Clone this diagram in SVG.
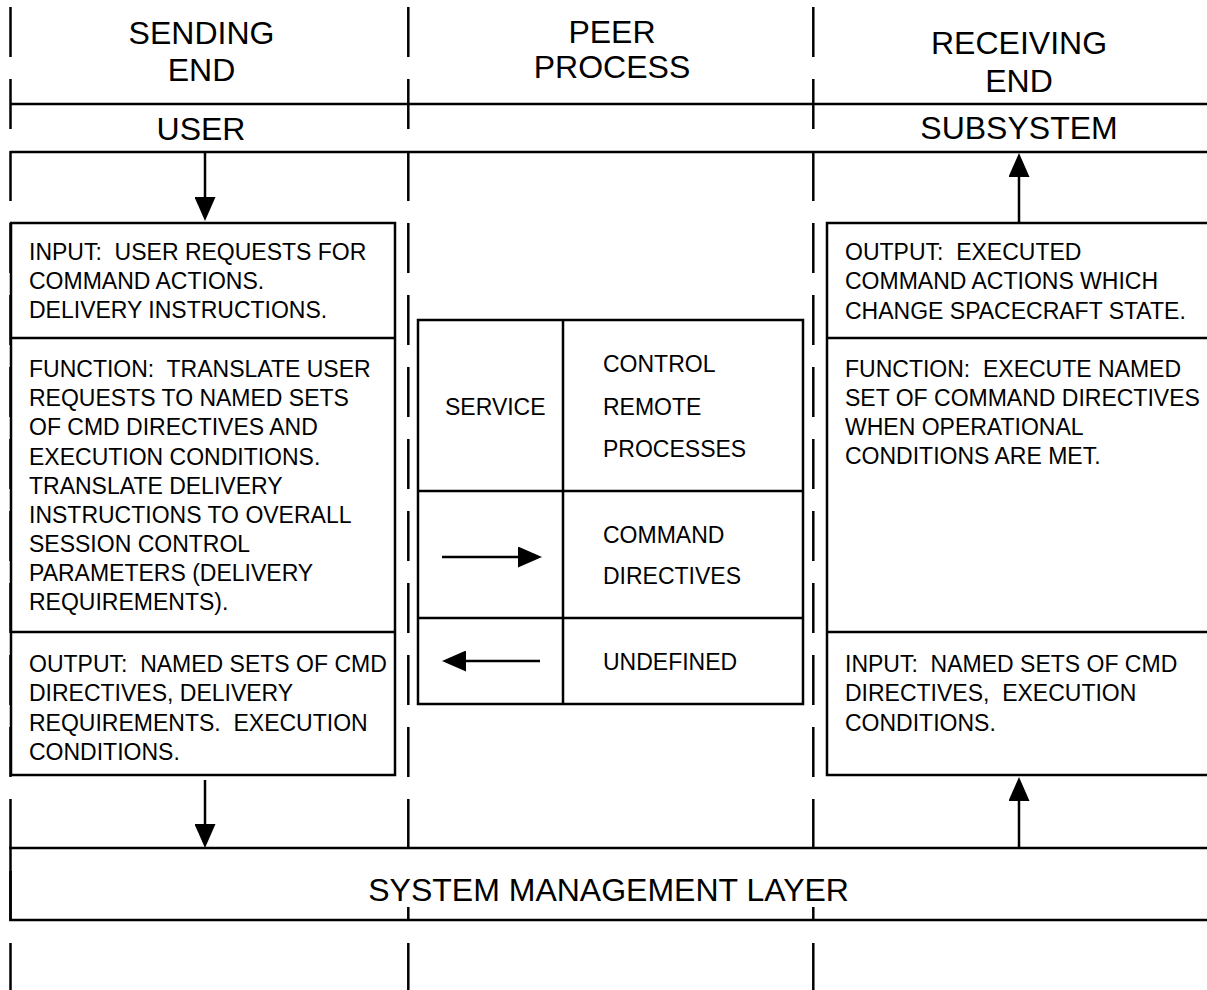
<svg xmlns="http://www.w3.org/2000/svg" width="1207" height="990" viewBox="0 0 1207 990">
<style>
  .bg { fill: #ffffff; }
  .dash { stroke: #000; stroke-width: 2.5; fill: none; stroke-dasharray: 50 22; }
  .box { stroke: #000; stroke-width: 2.5; fill: none; }
  .ln { stroke: #000; stroke-width: 2.5; fill: none; }
  .conn { stroke: #000; stroke-width: 2.5; fill: none; marker-end: url(#ah); }
  .hdr { font-family: "Liberation Sans", Arial, sans-serif; font-size: 32px; fill: #000; text-anchor: middle; }
  .txt { font-family: "Liberation Sans", Arial, sans-serif; font-size: 23px; fill: #000; white-space: pre; }
</style>
<defs>
  <marker id="ah" markerUnits="userSpaceOnUse" markerWidth="24" markerHeight="21" refX="0" refY="10.5" orient="auto" viewBox="0 0 24 21">
    <path d="M0,0 L24,10.5 L0,21 z" fill="#000"/>
  </marker>
</defs>
<rect class="bg" x="0" y="0" width="1207" height="990"/>

<g id="lanes">
  <line class="dash" x1="10.5" y1="7" x2="10.5" y2="995"/>
  <line class="dash" x1="408.3" y1="7" x2="408.3" y2="995"/>
  <line class="dash" x1="813.3" y1="7" x2="813.3" y2="995"/>
  <line class="ln" x1="10" y1="104" x2="1207" y2="104"/>
  <line class="ln" x1="10" y1="152" x2="1207" y2="152"/>
</g>

<g id="headers">
  <text class="hdr" x="201.5" y="44">SENDING</text>
  <text class="hdr" x="201.5" y="81">END</text>
  <text class="hdr" x="612" y="43">PEER</text>
  <text class="hdr" x="612" y="78">PROCESS</text>
  <text class="hdr" x="1019" y="54">RECEIVING</text>
  <text class="hdr" x="1019" y="92">END</text>
</g>

<g id="user">
  <text class="hdr" x="201" y="140">USER</text>
</g>
<g id="subsystem">
  <text class="hdr" x="1019" y="139">SUBSYSTEM</text>
</g>

<g id="sending-box">
  <rect class="box" x="11" y="223" width="384" height="552" fill="#fff"/>
  <line class="ln" x1="11" y1="338" x2="395" y2="338"/>
  <line class="ln" x1="11" y1="632" x2="395" y2="632"/>
  <text class="txt" x="29" y="260" xml:space="preserve">INPUT:  USER REQUESTS FOR</text>
  <text class="txt" x="29" y="289">COMMAND ACTIONS.</text>
  <text class="txt" x="29" y="318">DELIVERY INSTRUCTIONS.</text>
  <text class="txt" x="29" y="377" xml:space="preserve">FUNCTION:  TRANSLATE USER</text>
  <text class="txt" x="29" y="406">REQUESTS TO NAMED SETS</text>
  <text class="txt" x="29" y="435">OF CMD DIRECTIVES AND</text>
  <text class="txt" x="29" y="464.5">EXECUTION CONDITIONS.</text>
  <text class="txt" x="29" y="493.5">TRANSLATE DELIVERY</text>
  <text class="txt" x="29" y="523">INSTRUCTIONS TO OVERALL</text>
  <text class="txt" x="29" y="552">SESSION CONTROL</text>
  <text class="txt" x="29" y="581">PARAMETERS (DELIVERY</text>
  <text class="txt" x="29" y="610">REQUIREMENTS).</text>
  <text class="txt" x="29" y="672" xml:space="preserve">OUTPUT:  NAMED SETS OF CMD</text>
  <text class="txt" x="29" y="701">DIRECTIVES, DELIVERY</text>
  <text class="txt" x="29" y="730.5" xml:space="preserve">REQUIREMENTS.  EXECUTION</text>
  <text class="txt" x="29" y="760">CONDITIONS.</text>
</g>

<g id="receiving-box">
  <rect class="box" x="827" y="223" width="400" height="552" fill="#fff"/>
  <line class="ln" x1="827" y1="338" x2="1207" y2="338"/>
  <line class="ln" x1="827" y1="632" x2="1207" y2="632"/>
  <text class="txt" x="845" y="260" xml:space="preserve">OUTPUT:  EXECUTED</text>
  <text class="txt" x="845" y="289">COMMAND ACTIONS WHICH</text>
  <text class="txt" x="845" y="319">CHANGE SPACECRAFT STATE.</text>
  <text class="txt" x="845" y="377" xml:space="preserve">FUNCTION:  EXECUTE NAMED</text>
  <text class="txt" x="845" y="406">SET OF COMMAND DIRECTIVES</text>
  <text class="txt" x="845" y="435">WHEN OPERATIONAL</text>
  <text class="txt" x="845" y="464">CONDITIONS ARE MET.</text>
  <text class="txt" x="845" y="672" xml:space="preserve">INPUT:  NAMED SETS OF CMD</text>
  <text class="txt" x="845" y="701" xml:space="preserve">DIRECTIVES,  EXECUTION</text>
  <text class="txt" x="845" y="730.5">CONDITIONS.</text>
</g>

<g id="peer-table">
  <rect class="box" x="418" y="320" width="385" height="384" fill="#fff"/>
  <line class="ln" x1="563" y1="320" x2="563" y2="704"/>
  <line class="ln" x1="418" y1="491" x2="803" y2="491"/>
  <line class="ln" x1="418" y1="618" x2="803" y2="618"/>
  <text class="txt" x="445" y="415">SERVICE</text>
  <text class="txt" x="603" y="372">CONTROL</text>
  <text class="txt" x="603" y="415">REMOTE</text>
  <text class="txt" x="603" y="457">PROCESSES</text>
  <text class="txt" x="603" y="543">COMMAND</text>
  <text class="txt" x="603" y="584">DIRECTIVES</text>
  <text class="txt" x="603" y="670">UNDEFINED</text>
</g>

<g id="system-management-layer">
  <rect x="370" y="850" width="480" height="57" fill="#fff"/>
  <rect class="box" x="10.5" y="848" width="1210" height="72"/>
  <text class="hdr" x="608.6" y="900.5">SYSTEM MANAGEMENT LAYER</text>
</g>

<g id="connectors">
  <line class="conn" x1="205" y1="152" x2="205" y2="197"/>
  <line class="conn" x1="205" y1="780" x2="205" y2="824"/>
  <line class="conn" x1="1019" y1="223" x2="1019" y2="177"/>
  <line class="conn" x1="1019" y1="848" x2="1019" y2="801"/>
  <line class="conn" x1="442" y1="557" x2="518" y2="557"/>
  <line class="conn" x1="540" y1="661" x2="466" y2="661"/>
</g>
</svg>
